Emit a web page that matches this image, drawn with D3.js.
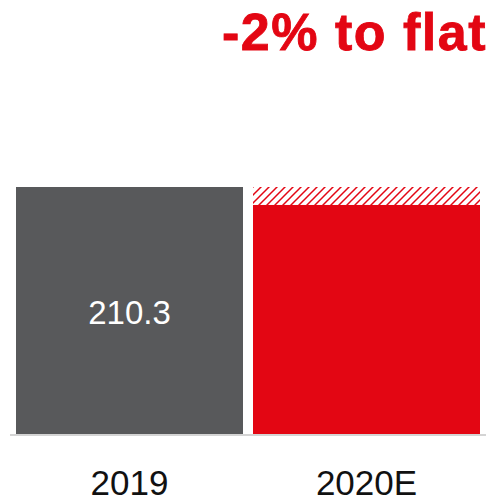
<!DOCTYPE html>
<html>
<head>
<meta charset="utf-8">
<script src="https://cdn.jsdelivr.net/npm/d3@7/dist/d3.min.js"></script>
<style>
  html, body { margin: 0; padding: 0; background: #fff; }
  svg { display: block; }
</style>
</head>
<body>
<svg id="chart" width="500" height="501"></svg>
<script>
// Revenue outlook: 2019 actual vs 2020 estimate range
const categories = ["2019", "2020E"];
const lowValues  = [210.3, 195.0];   // solid part of each bar
const highValues = [210.3, 210.3];   // top of the estimate range (hatched)
const valueLabels = ["210.3", ""];
const headline = "-2% to flat";

const W = 500, H = 501;
const grey = "#58595b", red = "#e30613";

const svg = d3.select("#chart");

const x = d3.scaleBand()
  .domain(categories)
  .range([11, 485])
  .paddingInner(10 / 237)
  .paddingOuter(5 / 237);

const y = d3.scaleLinear()
  .domain([0, d3.max(highValues)])
  .range([434, 187]);

// diagonal hatch for the uncertainty band
const defs = svg.append("defs");
const pat = defs.append("pattern")
  .attr("id", "hatch")
  .attr("patternUnits", "userSpaceOnUse")
  .attr("width", 8).attr("height", 8);
pat.append("rect").attr("width", 8).attr("height", 8).attr("fill", "#fff");
pat.append("path")
  .attr("d", "M-2,2 L2,-2 M0,8 L8,0 M6,10 L10,6")
  .attr("stroke", red)
  .attr("stroke-width", 1.5);

const fills = [grey, red];

// hatched range (high to low)
svg.selectAll("rect.range")
  .data(categories)
  .join("rect")
  .attr("class", "range")
  .attr("x", d => x(d))
  .attr("width", x.bandwidth())
  .attr("y", (d, i) => y(highValues[i]))
  .attr("height", (d, i) => y(lowValues[i]) - y(highValues[i]))
  .attr("fill", "url(#hatch)");

// solid bars
svg.selectAll("rect.bar")
  .data(categories)
  .join("rect")
  .attr("class", "bar")
  .attr("x", d => x(d))
  .attr("width", x.bandwidth())
  .attr("y", (d, i) => y(lowValues[i]))
  .attr("height", (d, i) => y(0) - y(lowValues[i]))
  .attr("fill", (d, i) => fills[i]);

// baseline
svg.append("line")
  .attr("x1", 10).attr("x2", 486)
  .attr("y1", y(0) + 1).attr("y2", y(0) + 1)
  .attr("stroke", "#d4d4d4")
  .attr("stroke-width", 2);

// value labels inside bars
svg.selectAll("text.value")
  .data(categories)
  .join("text")
  .attr("class", "value")
  .attr("x", d => x(d) + x.bandwidth() / 2)
  .attr("y", (d, i) => (y(lowValues[i]) + y(0)) / 2 + 13)
  .attr("text-anchor", "middle")
  .attr("font-family", "Liberation Sans, Arial, sans-serif")
  .attr("font-size", 33)
  .attr("fill", "#fff")
  .text((d, i) => valueLabels[i]);

// category labels
svg.selectAll("text.cat")
  .data(categories)
  .join("text")
  .attr("class", "cat")
  .attr("x", d => x(d) + x.bandwidth() / 2)
  .attr("y", 495)
  .attr("text-anchor", "middle")
  .attr("font-family", "Liberation Sans, Arial, sans-serif")
  .attr("font-size", 35)
  .attr("fill", "#111")
  .text(d => d);

// headline
svg.append("text")
  .attr("x", 487)
  .attr("y", 50)
  .attr("text-anchor", "end")
  .attr("font-family", "Liberation Sans, Arial, sans-serif")
  .attr("font-weight", "bold")
  .attr("font-size", 52)
  .attr("letter-spacing", 1.5)
  .attr("stroke", red)
  .attr("stroke-width", 0.8)
  .attr("fill", red)
  .text(headline);
</script>
</body>
</html>
